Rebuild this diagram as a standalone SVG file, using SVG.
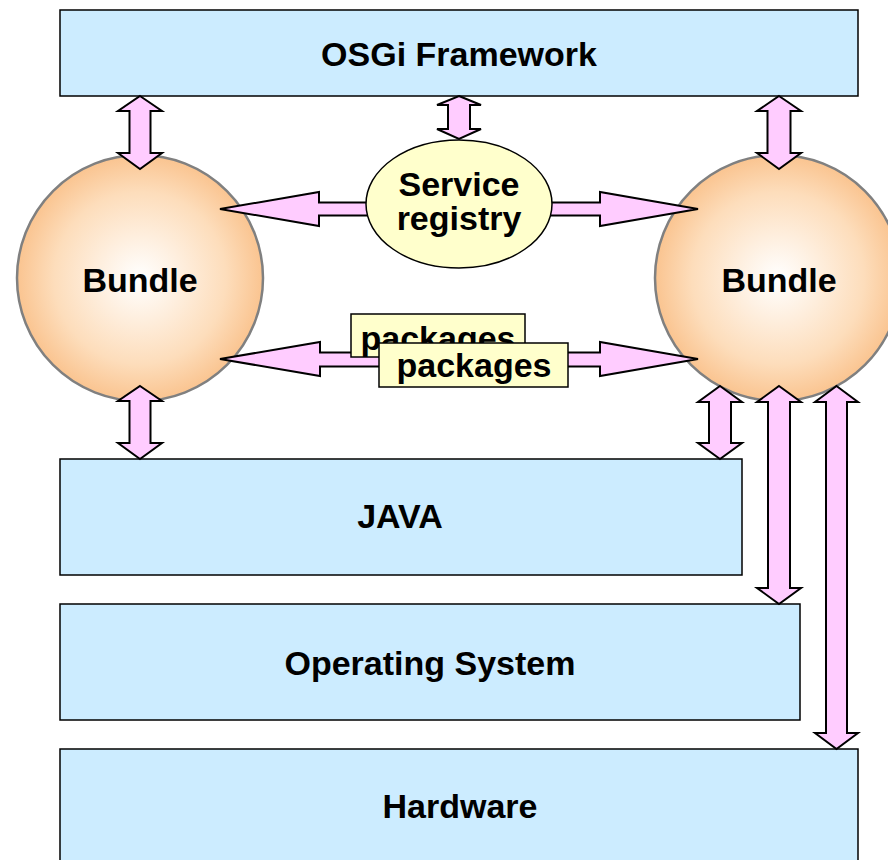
<svg xmlns="http://www.w3.org/2000/svg" width="888" height="860" viewBox="0 0 888 860">
<defs>
<radialGradient id="bg" cx="0.5" cy="0.5" r="0.5">
<stop offset="0" stop-color="#FFFFFF"/>
<stop offset="0.7" stop-color="#FDDDBB"/>
<stop offset="1" stop-color="#FAC490"/>
</radialGradient>
<style>
.box{fill:#CCECFF;stroke:#000;stroke-width:1.5}
.arr{fill:#FFCCFF;stroke:#000;stroke-width:2;stroke-linejoin:miter}
.bundle{fill:url(#bg);stroke:#808080;stroke-width:2.5}
.lbl{font-family:"Liberation Sans",Arial,sans-serif;font-weight:bold;font-size:34px;fill:#000;text-anchor:middle}
.pk{fill:#FFFFCC;stroke:#000;stroke-width:1.5}
</style>
</defs>
<rect width="888" height="860" fill="#fff"/>
<g id="osgi"><rect class="box" x="60" y="10" width="798" height="86"/><text class="lbl" x="459" y="66">OSGi Framework</text></g>
<g id="java"><rect class="box" x="60" y="459" width="682" height="116"/><text class="lbl" x="400" y="528">JAVA</text></g>
<g id="os"><rect class="box" x="60" y="604" width="740" height="116"/><text class="lbl" x="430" y="675">Operating System</text></g>
<g id="hw"><rect class="box" x="60" y="749" width="798" height="112"/><text class="lbl" x="460" y="818">Hardware</text></g>
<g id="bundle1"><circle class="bundle" cx="140" cy="278" r="123"/><text class="lbl" x="140" y="292">Bundle</text></g>
<g id="bundle2"><circle class="bundle" cx="778" cy="278" r="123"/><text class="lbl" x="779" y="292">Bundle</text></g>
<g id="connectors">
<polygon class="arr" points="140,96 162,111 150.5,111 150.5,153 162,153 140,169 118,153 129.5,153 129.5,111 118,111"/>
<polygon class="arr" points="459,96 481,105 470,105 470,129 481,129 459,139 437,129 448,129 448,105 437,105"/>
<polygon class="arr" points="779,96 801,111 790.5,111 790.5,153 801,153 779,169 757,153 767.5,153 767.5,111 757,111"/>
<polygon class="arr" points="140,386 162,401 150.5,401 150.5,443 162,443 140,459 118,443 129.5,443 129.5,401 118,401"/>
<polygon class="arr" points="720,386 742,402 731,402 731,443 742,443 720,459 698,443 709,443 709,402 698,402"/>
<polygon class="arr" points="779,386 801,402 790,402 790,588 801,588 779,604 757,588 768,588 768,402 757,402"/>
<polygon class="arr" points="836.5,386 858,402 847,402 847,733 858,733 836.5,749 815,733 826,733 826,402 815,402"/>
<polygon class="arr" points="220,209 319,192 319,202.5 375,202.5 375,215.5 319,215.5 319,226"/>
<polygon class="arr" points="698,209 600,192 600,202.5 543,202.5 543,215.5 600,215.5 600,226"/>
<polygon class="arr" points="220,359 320,342 320,352.5 600,352.5 600,342 698,359 600,376 600,366.5 320,366.5 320,376"/>
</g>
<g id="registry"><ellipse cx="459" cy="204" rx="93" ry="64" fill="#FFFFCC" stroke="#000" stroke-width="1.5"/><text class="lbl" x="459" y="196">Service</text><text class="lbl" x="459" y="230">registry</text></g>
<g id="packages1"><rect class="pk" x="351" y="314" width="174" height="43"/><text class="lbl" x="438" y="350">packages</text></g>
<g id="packages2"><rect class="pk" x="379" y="343" width="189" height="44"/><text class="lbl" x="474" y="377">packages</text></g>
</svg>
